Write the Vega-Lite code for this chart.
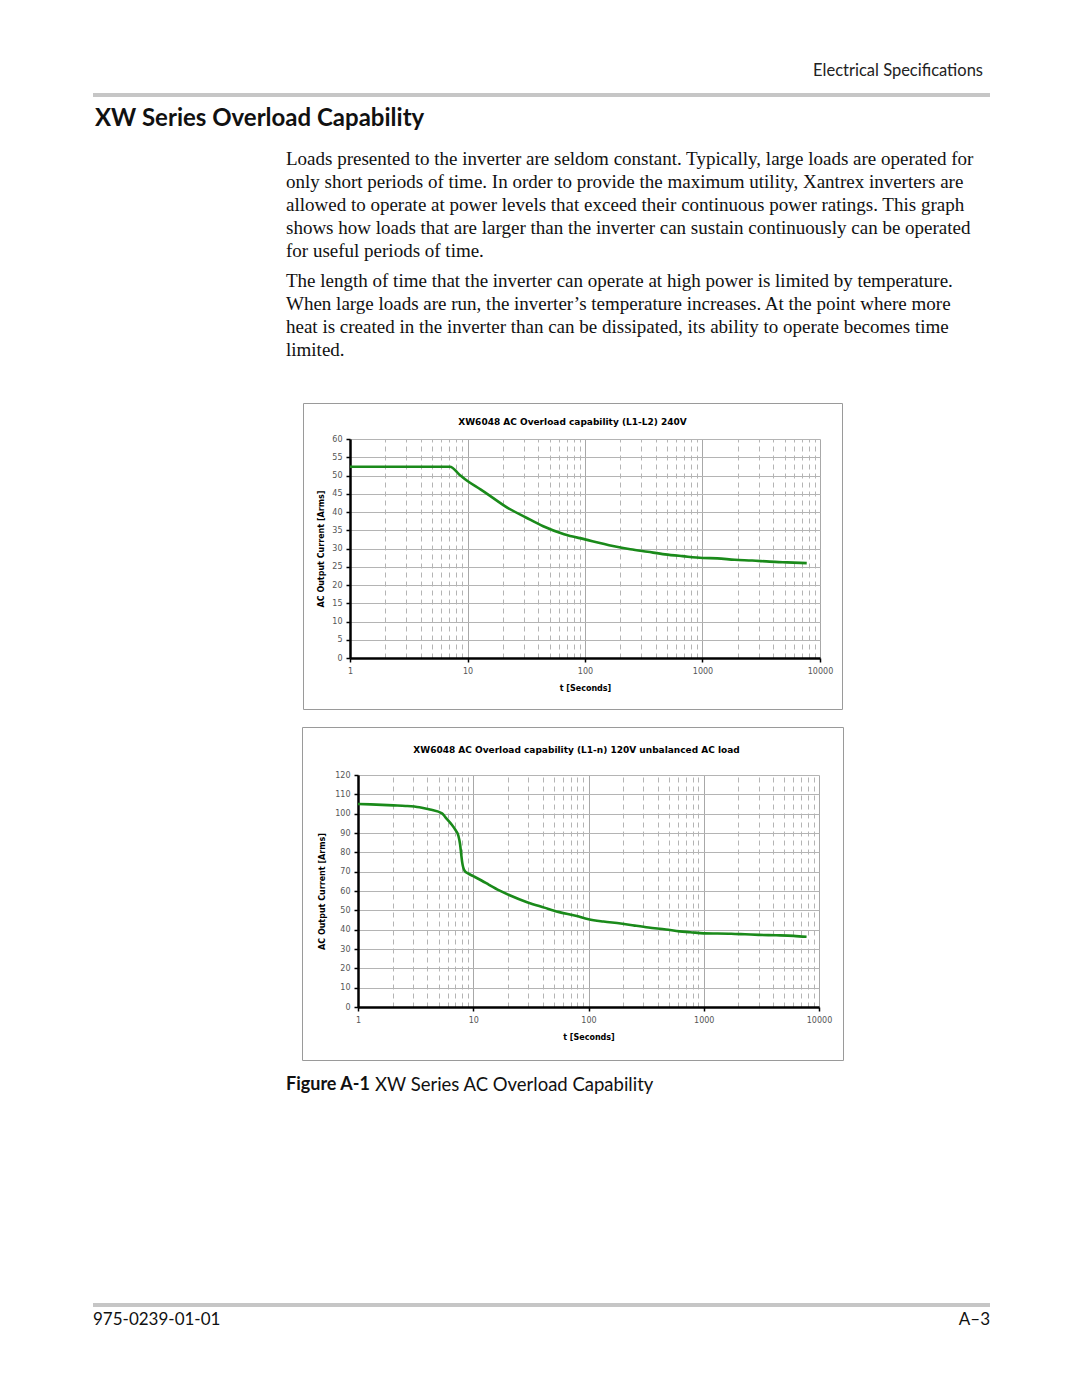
{
  "$schema": "https://vega.github.io/schema/vega-lite/v6.json",
  "padding": {"left": 93, "top": 0, "right": 0, "bottom": 0},
  "background": "white",
  "spacing": 0,
  "config": {"view": {"stroke": null}, "concat": {"spacing": 0}},
  "data": {"values": []},
  "datasets": {
    "c1": [
      {"t": 1, "I": 52.4}, {"t": 7.1, "I": 52.4}, {"t": 8.5, "I": 50.3}, {"t": 10, "I": 48.5},
      {"t": 12.9, "I": 46.2}, {"t": 14.8, "I": 44.9}, {"t": 22.3, "I": 41.0}, {"t": 31.4, "I": 38.5},
      {"t": 44.1, "I": 36.1}, {"t": 66.4, "I": 33.9}, {"t": 100, "I": 32.5}, {"t": 172.6, "I": 30.7},
      {"t": 243, "I": 29.8}, {"t": 341, "I": 29.1}, {"t": 480, "I": 28.4}, {"t": 676, "I": 27.9},
      {"t": 1000, "I": 27.4}, {"t": 1336, "I": 27.3}, {"t": 1879, "I": 26.9}, {"t": 2643, "I": 26.7},
      {"t": 3718, "I": 26.4}, {"t": 5230, "I": 26.2}, {"t": 7710, "I": 26.0}
    ],
    "c2": [
      {"t": 1, "I": 105.0}, {"t": 1.29, "I": 104.8}, {"t": 2.03, "I": 104.3}, {"t": 2.59, "I": 104.0},
      {"t": 3.41, "I": 103.3}, {"t": 4.21, "I": 102.1}, {"t": 5.36, "I": 100.2}, {"t": 5.74, "I": 98.1},
      {"t": 6.37, "I": 95.0}, {"t": 7.07, "I": 91.2}, {"t": 7.43, "I": 88.6}, {"t": 7.68, "I": 84.3},
      {"t": 7.86, "I": 79.1}, {"t": 8.02, "I": 74.8}, {"t": 8.41, "I": 70.5}, {"t": 9.01, "I": 69.1},
      {"t": 10, "I": 67.7}, {"t": 11.9, "I": 65.3}, {"t": 13.7, "I": 63.2}, {"t": 16.8, "I": 60.3},
      {"t": 20.7, "I": 57.8}, {"t": 29.3, "I": 54.2}, {"t": 41.4, "I": 51.4}, {"t": 54.7, "I": 49.2},
      {"t": 77.4, "I": 47.2}, {"t": 100, "I": 45.4}, {"t": 134.8, "I": 44.2}, {"t": 190, "I": 43.2},
      {"t": 252, "I": 42.1}, {"t": 332, "I": 41.1}, {"t": 470, "I": 40.1}, {"t": 620, "I": 39.1},
      {"t": 763, "I": 38.7}, {"t": 1000, "I": 38.1}, {"t": 1729, "I": 37.9}, {"t": 2282, "I": 37.6},
      {"t": 3002, "I": 37.3}, {"t": 4254, "I": 37.1}, {"t": 6010, "I": 36.8}, {"t": 7800, "I": 36.3}
    ]
  },
  "vconcat": [
    {
      "width": 897, "height": 93, "mark": "point",
      "title": {"text": "Electrical Specifications", "anchor": "end", "frame": "group", "offset": -79, "dx": -7,
        "font": "Lato", "fontSize": 16.5, "fontWeight": "normal", "color": "#222"}
    },
    {
      "width": 897, "height": 4, "mark": "point",
      "view": {"fill": "#c6c6c6", "stroke": null}
    },
    {
      "width": 897, "height": 43, "mark": "point",
      "title": {"text": "XW Series Overload Capability", "anchor": "start", "frame": "group", "offset": -34, "dx": 2,
        "font": "Lato", "fontSize": 24, "fontWeight": "bold", "color": "#111"}
    },
    {
      "width": 897, "height": 130, "mark": "point",
      "title": {"text": [
          "Loads presented to the inverter are seldom constant. Typically, large loads are operated for",
          "only short periods of time. In order to provide the maximum utility, Xantrex inverters are",
          "allowed to operate at power levels that exceed their continuous power ratings. This graph",
          "shows how loads that are larger than the inverter can sustain continuously can be operated",
          "for useful periods of time."
        ],
        "anchor": "start", "frame": "group", "offset": -121, "dx": 193, "lineHeight": 23,
        "font": "Liberation Serif", "fontSize": 19, "fontWeight": "normal", "color": "#111"}
    },
    {
      "width": 897, "height": 132, "mark": "point",
      "title": {"text": [
          "The length of time that the inverter can operate at high power is limited by temperature.",
          "When large loads are run, the inverter’s temperature increases. At the point where more",
          "heat is created in the inverter than can be dissipated, its ability to operate becomes time",
          "limited."
        ],
        "anchor": "start", "frame": "group", "offset": -90, "dx": 193, "lineHeight": 23,
        "font": "Liberation Serif", "fontSize": 19, "fontWeight": "normal", "color": "#111"}
    },
    {
      "hconcat": [
        {"width": 209, "height": 306, "mark": "point"},
        {
          "width": 539, "height": 306,
          "view": {"stroke": "#9a9a9a", "strokeWidth": 1},
          "data": {"name": "c1"},
          "title": {"text": "XW6048 AC Overload capability (L1-L2) 240V", "anchor": "middle", "frame": "group", "offset": -24,
            "font": "DejaVu Sans", "fontSize": 9, "fontWeight": "bold", "color": "#000"},
          "encoding": {
            "y": {"field": "I", "type": "quantitative",
              "scale": {"domain": [0, 60], "range": [255, 36], "nice": false, "zero": false},
              "axis": {"orient": "left", "offset": -47, "values": [0, 5, 10, 15, 20, 25, 30, 35, 40, 45, 50, 55, 60],
                "grid": true, "gridColor": "#b4b4b4", "gridWidth": 1,
                "domainColor": "#000", "domainWidth": 2.5, "tickColor": "#000", "tickSize": 4, "tickWidth": 1.5,
                "labelFont": "DejaVu Sans", "labelFontSize": 8, "labelColor": "#555", "labelPadding": 4,
                "labelFlush": false, "labelOverlap": false,
                "title": "AC Output Current [Arms]", "titleFont": "DejaVu Sans", "titleFontSize": 8, "titleFontWeight": "bold",
                "titleColor": "#000", "titlePadding": 6}}
          },
          "layer": [
            {
              "mark": {"type": "point", "opacity": 0},
              "encoding": {
                "x": {"field": "t", "type": "quantitative",
                  "scale": {"type": "log", "domain": [1, 10000], "range": [47, 517], "nice": false},
                  "axis": {"orient": "top", "offset": 0,
                    "values": [1, 2, 3, 4, 5, 6, 7, 8, 9, 10, 20, 30, 40, 50, 60, 70, 80, 90, 100, 200, 300, 400, 500, 600, 700, 800, 900, 1000, 2000, 3000, 4000, 5000, 6000, 7000, 8000, 9000, 10000],
                    "grid": true, "gridWidth": 1,
                    "gridColor": {"condition": {"test": "indexof([1, 10, 100, 1000, 10000], datum.value) >= 0", "value": "#a8a8a8"}, "value": "#b4b4b4"},
                    "gridDash": {"condition": {"test": "indexof([1, 10, 100, 1000, 10000], datum.value) >= 0", "value": []}, "value": [5, 4]},
                    "labels": false, "ticks": false, "domain": false, "title": null}}
              }
            },
            {
              "mark": {"type": "line", "color": "#1a8a1a", "strokeWidth": 2.6, "interpolate": "monotone"},
              "encoding": {
                "x": {"field": "t", "type": "quantitative",
                  "scale": {"type": "log", "domain": [1, 10000], "range": [47, 517], "nice": false},
                  "axis": {"orient": "bottom", "offset": -51, "values": [1, 10, 100, 1000, 10000], "format": "d",
                    "grid": false,
                    "domainColor": "#000", "domainWidth": 2.5, "tickColor": "#000", "tickSize": 4, "tickWidth": 1.5,
                    "labelFont": "DejaVu Sans", "labelFontSize": 8, "labelColor": "#555", "labelPadding": 5,
                    "labelFlush": false, "labelOverlap": false,
                    "title": "t [Seconds]", "titleFont": "DejaVu Sans", "titleFontSize": 8, "titleFontWeight": "bold",
                    "titleColor": "#000", "titlePadding": 9}}
              }
            }
          ],
          "resolve": {"axis": {"x": "independent"}}
        }
      ],
      "spacing": 0
    },
    {"width": 897, "height": 16, "mark": "point"},
    {
      "hconcat": [
        {"width": 208, "height": 333, "mark": "point"},
        {
          "width": 541, "height": 333,
          "view": {"stroke": "#9a9a9a", "strokeWidth": 1},
          "data": {"name": "c2"},
          "title": {"text": "XW6048 AC Overload capability (L1-n) 120V unbalanced AC load", "anchor": "middle", "frame": "group", "offset": -28, "dx": 4,
            "font": "DejaVu Sans", "fontSize": 9, "fontWeight": "bold", "color": "#000"},
          "encoding": {
            "y": {"field": "I", "type": "quantitative",
              "scale": {"domain": [0, 120], "range": [280, 48], "nice": false, "zero": false},
              "axis": {"orient": "left", "offset": -56, "values": [0, 10, 20, 30, 40, 50, 60, 70, 80, 90, 100, 110, 120],
                "grid": true, "gridColor": "#b4b4b4", "gridWidth": 1,
                "domainColor": "#000", "domainWidth": 2.5, "tickColor": "#000", "tickSize": 4, "tickWidth": 1.5,
                "labelFont": "DejaVu Sans", "labelFontSize": 8, "labelColor": "#555", "labelPadding": 4,
                "labelFlush": false, "labelOverlap": false,
                "title": "AC Output Current [Arms]", "titleFont": "DejaVu Sans", "titleFontSize": 8, "titleFontWeight": "bold",
                "titleColor": "#000", "titlePadding": 8}}
          },
          "layer": [
            {
              "mark": {"type": "point", "opacity": 0},
              "encoding": {
                "x": {"field": "t", "type": "quantitative",
                  "scale": {"type": "log", "domain": [1, 10000], "range": [56, 517], "nice": false},
                  "axis": {"orient": "top", "offset": 0,
                    "values": [1, 2, 3, 4, 5, 6, 7, 8, 9, 10, 20, 30, 40, 50, 60, 70, 80, 90, 100, 200, 300, 400, 500, 600, 700, 800, 900, 1000, 2000, 3000, 4000, 5000, 6000, 7000, 8000, 9000, 10000],
                    "grid": true, "gridWidth": 1,
                    "gridColor": {"condition": {"test": "indexof([1, 10, 100, 1000, 10000], datum.value) >= 0", "value": "#a8a8a8"}, "value": "#b4b4b4"},
                    "gridDash": {"condition": {"test": "indexof([1, 10, 100, 1000, 10000], datum.value) >= 0", "value": []}, "value": [5, 4]},
                    "labels": false, "ticks": false, "domain": false, "title": null}}
              }
            },
            {
              "mark": {"type": "line", "color": "#1a8a1a", "strokeWidth": 2.6, "interpolate": "monotone"},
              "encoding": {
                "x": {"field": "t", "type": "quantitative",
                  "scale": {"type": "log", "domain": [1, 10000], "range": [56, 517], "nice": false},
                  "axis": {"orient": "bottom", "offset": -53, "values": [1, 10, 100, 1000, 10000], "format": "d",
                    "grid": false,
                    "domainColor": "#000", "domainWidth": 2.5, "tickColor": "#000", "tickSize": 4, "tickWidth": 1.5,
                    "labelFont": "DejaVu Sans", "labelFontSize": 8, "labelColor": "#555", "labelPadding": 5,
                    "labelFlush": false, "labelOverlap": false,
                    "title": "t [Seconds]", "titleFont": "DejaVu Sans", "titleFontSize": 8, "titleFontWeight": "bold",
                    "titleColor": "#000", "titlePadding": 9}}
              }
            }
          ],
          "resolve": {"axis": {"x": "independent"}}
        }
      ],
      "spacing": 0
    },
    {
      "hconcat": [
        {
          "width": 282, "height": 242, "mark": "point",
          "title": {"text": "Figure A-1", "anchor": "start", "frame": "group", "offset": -33, "dx": 193,
            "font": "Lato", "fontSize": 18, "fontWeight": "bold", "color": "#111"}
        },
        {
          "width": 615, "height": 242, "mark": "point",
          "title": {"text": "XW Series AC Overload Capability", "anchor": "start", "frame": "group", "offset": -33, "dx": 0,
            "font": "Lato", "fontSize": 18.5, "fontWeight": "normal", "color": "#111"}
        }
      ],
      "spacing": 0
    },
    {
      "width": 897, "height": 4, "mark": "point",
      "view": {"fill": "#c6c6c6", "stroke": null}
    },
    {
      "hconcat": [
        {
          "width": 448, "height": 34, "mark": "point",
          "title": {"text": "975-0239-01-01", "anchor": "start", "frame": "group", "offset": -22, "dx": 0,
            "font": "Lato", "fontSize": 17, "fontWeight": "normal", "color": "#111"}
        },
        {
          "width": 449, "height": 34, "mark": "point",
          "title": {"text": "A–3", "anchor": "end", "frame": "group", "offset": -22, "dx": 0,
            "font": "Lato", "fontSize": 17, "fontWeight": "normal", "color": "#111"}
        }
      ],
      "spacing": 0
    }
  ]
}
